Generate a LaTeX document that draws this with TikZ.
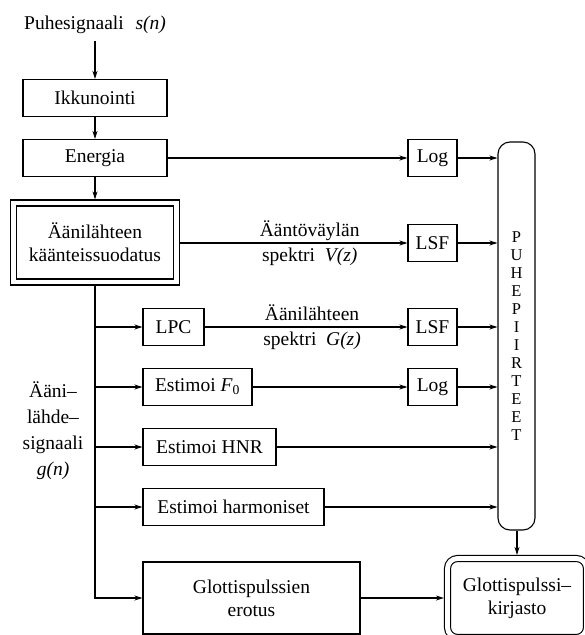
\documentclass[tikz,border=0pt]{standalone}
\usepackage{fontspec}
\setmainfont{Liberation Serif}
\usetikzlibrary{calc,arrows.meta}
\newcommand{\Fnolla}{\textit{F}\textsubscript{0}}

\begin{document}
\begin{tikzpicture}[x=1pt,y=-1pt,line width=1.1pt,
    every node/.style={font=\fontsize{19.5}{23}\selectfont,inner sep=0pt,align=center},
    blk/.style={draw,minimum height=37pt},
    dblk/.style={draw,double,double distance=4.9pt,outer sep=3.6pt},
    lbl/.style={font=\fontsize{19.5}{25}\selectfont},
    arr/.style={-{Stealth[length=8pt,width=5pt]}}]

    \useasboundingbox (0,0) rectangle (585,635);

    % Input and first stages
    \node (sig) at (95,25) {Puhesignaali\hspace{.6em}\textit{s(n)}};
    \node[blk,minimum width=144pt] (ikk) at (95,98) {Ikkunointi};
    \node[blk,minimum width=144pt] (ene) at (95,158) {Energia};
    \node[dblk,minimum width=163pt,minimum height=79pt] (inv) at (95,242.5)
        {Äänilähteen\\käänteissuodatus};

    % Boxes on the right
    \node[blk,minimum width=49pt] (log1) at (432.5,158) {Log};
    \node[blk,minimum width=49pt] (lsf1) at (432.5,243) {LSF};
    \node[blk,minimum width=49pt] (lsf2) at (432.5,327) {LSF};
    \node[blk,minimum width=49pt] (log2) at (432.5,387) {Log};
    \node[draw,rounded corners=12pt,minimum width=37pt,minimum height=388pt,
        font=\fontsize{16.5}{18}\selectfont] (puhe) at (516.5,336)
        {P\\U\\H\\E\\P\\I\\I\\R\\T\\E\\E\\T};

    % Branches of the source signal
    \node[blk,minimum width=61pt] (lpc) at (173.5,327) {LPC};
    \node[blk,minimum width=109pt] (f0) at (197.5,387) {Estimoi \Fnolla};
    \node[blk,minimum width=133pt] (hnr) at (209.5,447) {Estimoi HNR};
    \node[blk,minimum width=181pt] (harm) at (233.5,507) {Estimoi harmoniset};
    \node[blk,minimum width=217pt,minimum height=72pt] (ero) at (251.5,598)
        {Glottispulssien\\erotus};
    \node[dblk,rounded corners=10pt,minimum width=139pt,minimum height=79pt] (lib)
        at (517,598) {Glottispulssi--\\kirjasto};

    \node (src) at (53,431) [font=\fontsize{19.5}{26}\selectfont]
        {Ääni--\\lähde--\\signaali\\\textit{g(n)}};

    % Connectors
    \draw[arr,shorten <=7pt] (sig.south) -- (ikk.north);
    \draw[arr] (ikk) -- (ene);
    \draw[arr] (ene) -- (inv.north);
    \draw[arr] (ene) -- (log1);
    \draw[arr] (inv.east |- lsf1.west) -- node[lbl,pos=.57] {Ääntöväylän\\spektri\hspace{.5em}\textit{V(z)}} (lsf1);
    \draw[arr] (lpc) -- node[lbl,pos=.53] {Äänilähteen\\spektri\hspace{.5em}\textit{G(z)}} (lsf2);
    \draw[arr] (f0) -- (log2);
    \draw[arr] (inv.south) |- (ero.west);
    \foreach \n in {lpc,f0,hnr,harm}
        \draw[arr] (inv.south |- \n.west) -- (\n.west);
    \foreach \n in {log1,lsf1,lsf2,log2,hnr,harm}
        \draw[arr] (\n.east) -- (\n.east -| puhe.west);
    \draw[arr] (ero) -- (lib);
    \draw[arr] (puhe.south -| lib.north) -- (lib.north);

\end{tikzpicture}
\end{document}
